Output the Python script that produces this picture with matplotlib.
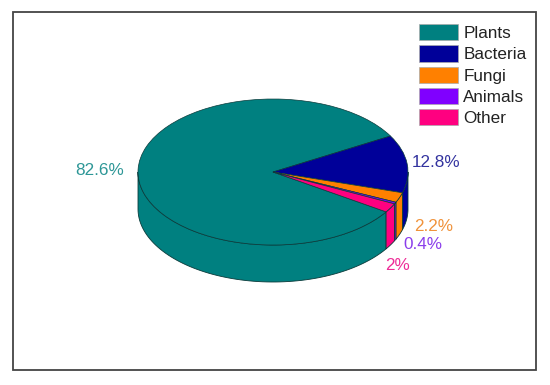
#!/usr/bin/env python3
"""Pseudo-3D pie of species share, drawn on a squashed pie axes."""

import matplotlib
matplotlib.use("Agg")
import matplotlib.pyplot as plt
import numpy as np
from matplotlib.patches import Rectangle

categories = ["Plants", "Bacteria", "Fungi", "Animals", "Other"]
shares = [82.6, 12.8, 2.2, 0.4, 2.0]
share_labels = ["82.6%", "12.8%", "2.2%", "0.4%", "2%"]

COLORS = ["#008080", "#000099", "#FF8000", "#8000FF", "#FF0080"]
LABEL_COLORS = ["#2E9797", "#33339F", "#F0923A", "#8A3DEB", "#EE2C97"]
LABEL_XY = [(100, 170), (436, 162), (434, 226), (423, 244), (398, 266)]
EDGE = "#0A3A3A"

W, H = 550, 385
CX, CY, RX, RY, DEPTH = 273, 172, 135, 73, 37
START = 326.9

plt.rcParams["font.family"] = ["Liberation Sans", "DejaVu Sans"]


def px(x, y):
    return x / RX, (H - y) / RY


fig = plt.figure(figsize=(W / 100, H / 100), dpi=100, facecolor="white")
ax = fig.add_axes([0, 0, 1, 1])
center = px(CX, CY)
drop = DEPTH / RY


def draw_wall(a0, a1, color):
    # visible outer wall between two angles (degrees), front half only
    lo, hi = max(a0, 180), min(a1, 360)
    if hi <= lo:
        return
    t = np.radians(np.linspace(lo, hi, 80))
    x = center[0] + np.cos(t)
    y = center[1] + np.sin(t)
    ax.fill(np.r_[x, x[::-1]], np.r_[y, y[::-1] - drop],
            facecolor=color, edgecolor=EDGE, lw=0.6, zorder=1)


# clockwise from START, walls follow the same slices
edges = START - np.cumsum([0] + shares) * 3.6
for top, bottom, color in zip(edges[:-1], edges[1:], COLORS):
    for shift in (0, 360):
        draw_wall(bottom + shift, top + shift, color)

wedges, _ = ax.pie(shares, colors=COLORS, startangle=START, counterclock=False,
                   center=center, radius=1,
                   wedgeprops={"edgecolor": EDGE, "linewidth": 0.5, "zorder": 2})
ax.set_aspect("auto")
ax.set_xlim(0, W / RX)
ax.set_ylim(0, H / RY)
ax.axis("off")

for text, (x, y), color in zip(share_labels, LABEL_XY, LABEL_COLORS):
    lx, ly = px(x, y)
    ax.text(lx, ly, text, color=color, fontsize=12.3, ha="center", va="center")

leg = ax.legend(wedges, categories, loc="upper left", bbox_to_anchor=(407 / W, 1 - 12 / H),
                frameon=False, fontsize=12.3, handlelength=2.3, handleheight=1.1,
                handletextpad=0.3, labelspacing=0.25, borderpad=0.2, labelcolor="#222222")
for handle in leg.legend_handles:
    handle.set_edgecolor("#AAAAAA")
    handle.set_linewidth(0.5)

fig.add_artist(Rectangle((12.5 / W, 1 - 369.5 / H), 523.5 / W, 357.5 / H, transform=fig.transFigure,
                         fill=False, edgecolor="#444444", lw=1.3))

fig.savefig("out.png", dpi=100, facecolor="white")
